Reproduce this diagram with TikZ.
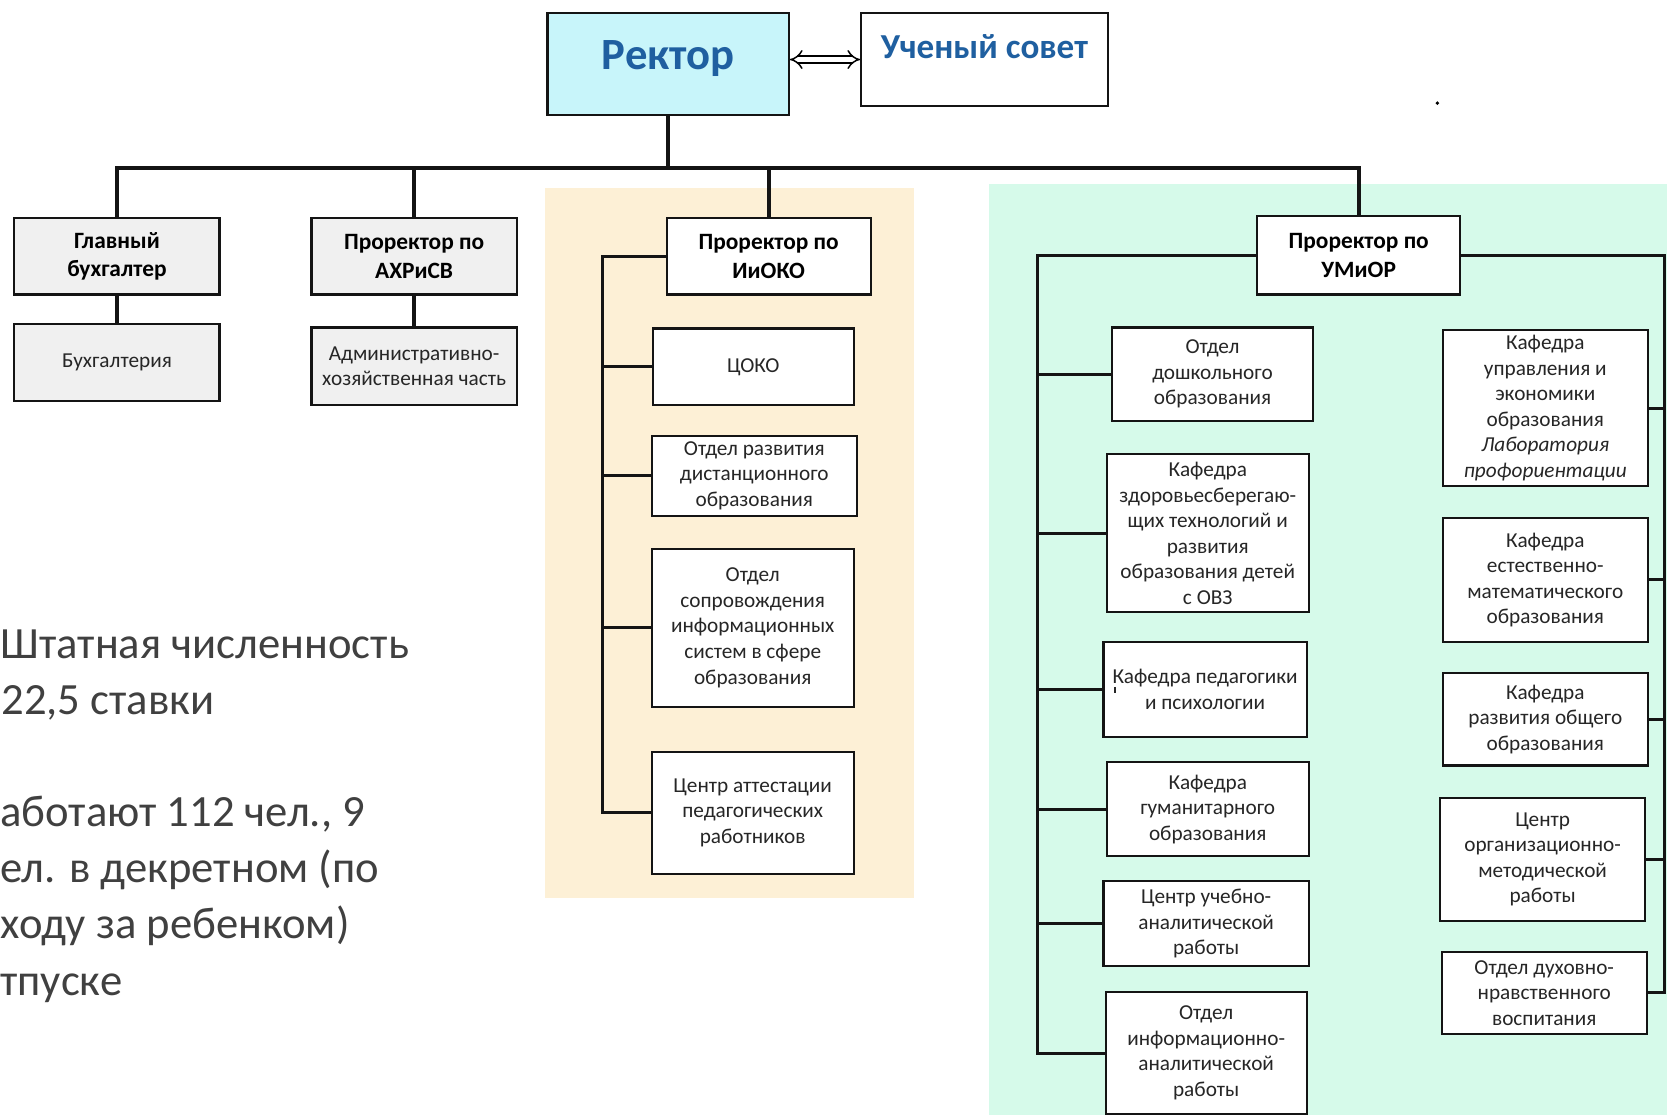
\documentclass[tikz,border=0pt]{standalone}
\usepackage{fontspec}
\setmainfont{Carlito}
\usetikzlibrary{arrows.meta,calc}
\definecolor{rectcyan}{RGB}{200,245,250}
\definecolor{orbg}{RGB}{253,240,214}
\definecolor{grbg}{RGB}{214,250,234}
\definecolor{greybox}{RGB}{240,240,240}
\definecolor{titleblue}{RGB}{31,95,160}
\definecolor{sidetext}{RGB}{64,64,64}
\definecolor{boxtext}{RGB}{38,38,38}
\definecolor{linecol}{RGB}{20,20,20}
\tikzset{
  x=0.5pt, y=-0.5pt,
  ubox/.style={draw=linecol, line width=1pt, fill=white, align=center, inner sep=2pt,
    text=boxtext, font=\fontsize{10}{12}\selectfont},
  hbox/.style={ubox, font=\bfseries\fontsize{11}{13.5}\selectfont, text=black},
  gbox/.style={ubox, fill=greybox},
  ghbox/.style={hbox, fill=greybox},
  bus/.style={draw=linecol, line width=1.8pt},
  conn/.style={draw=linecol, line width=1.4pt},
  side/.style={anchor=base west, inner sep=0pt, text=sidetext, font=\fontsize{21}{26}\selectfont},
}
\begin{document}
\begin{tikzpicture}
\useasboundingbox (0,0) rectangle (1568,1048);
% backgrounds
\fill[orbg] (513,177) rectangle (860,845);
\fill[grbg] (930,173) rectangle (1570,1050);

% top
\node[draw=linecol, line width=1pt, fill=rectcyan, minimum width=113.5pt, minimum height=48pt,
  text height=24.5pt, text depth=19.5pt, inner sep=2pt, text=titleblue,
  font=\bfseries\fontsize{21}{25}\selectfont] (rector) at (628.5,60) {Ректор};
\node[draw=linecol, line width=1pt, fill=white, minimum width=116pt, minimum height=44pt,
  text height=19.5pt, text depth=20.5pt, inner sep=2pt, text=titleblue,
  font=\bfseries\fontsize{16.5}{19}\selectfont] (sovet) at (926,56) {Ученый совет};
\draw[line width=0.7pt, double distance=2.4pt, {Implies}-{Implies}] (rector.east |- sovet.west) -- (sovet.west);
\fill[black] (1352,97) circle[radius=0.9pt];

% level 2
\node[ghbox, minimum width=96.5pt, minimum height=36pt] (glav) at (110,241) {Главный\\бухгалтер};
\node[gbox, minimum width=96.5pt, minimum height=36pt] (buh) at (110,341) {Бухгалтерия};
\node[ghbox, minimum width=96.5pt, minimum height=36pt] (ahr) at (389.5,241) {Проректор по\\АХРиСВ};
\node[gbox, minimum width=96.5pt, minimum height=36.5pt] (ahch) at (389.5,344.5) {Административно-\\хозяйственная часть};
\node[hbox, minimum width=96pt, minimum height=36pt] (ioko) at (723,241) {Проректор по\\ИиОКО};
\node[hbox, minimum width=95.5pt, minimum height=37pt] (umor) at (1278,240) {Проректор по\\УМиОР};

% orange column
\node[ubox, minimum width=94.5pt, minimum height=36pt] (coko) at (708.5,345) {ЦОКО};
\node[ubox, minimum width=96.5pt, minimum height=37.5pt] (dist) at (709.5,447.5) {Отдел развития\\дистанционного\\образования};
\node[ubox, minimum width=95pt, minimum height=74.5pt] (sopr) at (708,590.5) {Отдел\\сопровождения\\информационных\\систем в сфере\\образования};
\node[ubox, minimum width=95pt, minimum height=57.5pt] (att) at (708,764.5) {Центр аттестации\\педагогических\\работников};

% green left column
\node[ubox, minimum width=94.5pt, minimum height=44pt] (dosh) at (1140.5,352) {Отдел\\дошкольного\\образования};
\node[ubox, minimum width=95pt, minimum height=74.5pt] (zdor) at (1136,501.5) {Кафедра\\здоровьесберегаю-\\щих технологий и\\развития\\образования детей\\с ОВЗ};
\node[ubox, minimum width=95.5pt, minimum height=44.5pt] (ped) at (1133.5,648.5) {Кафедра педагогики\\и психологии};
\node[ubox, minimum width=95pt, minimum height=44pt] (gum) at (1136,761) {Кафедра\\гуманитарного\\образования};
\node[ubox, minimum width=96.5pt, minimum height=40pt] (ucheb) at (1134.5,869) {Центр учебно-\\аналитической\\работы};
\node[ubox, minimum width=94.5pt, minimum height=57.5pt] (inf) at (1134.5,990.5) {Отдел\\информационно-\\аналитической\\работы};
\draw[line width=0.8pt, boxtext] (1049,646) -- (1049,652);

% green right column
\node[ubox, minimum width=96.5pt, minimum height=73.5pt] (upr) at (1453.5,384) {Кафедра\\управления и\\экономики\\образования\\\textit{Лаборатория}\\\textit{профориентации}};
\node[ubox, minimum width=96.5pt, minimum height=58pt] (est) at (1453.5,545.5) {Кафедра\\естественно-\\математического\\образования};
\node[ubox, minimum width=96.5pt, minimum height=43.5pt] (razv) at (1453.5,676.5) {Кафедра\\развития общего\\образования};
\node[ubox, minimum width=96.5pt, minimum height=57.5pt] (centr) at (1451,808.5) {Центр\\организационно-\\методической\\работы};
\node[ubox, minimum width=96.5pt, minimum height=38.5pt] (duh) at (1452.5,934) {Отдел духовно-\\нравственного\\воспитания};

% bus
\coordinate (busL) at (110,158);
\coordinate (ol) at (567,0);
\coordinate (gl) at (976,0);
\coordinate (gr) at (1566,0);
\draw[bus] (glav.north) -- (glav.north |- busL) -- (umor.north |- busL) -- (umor.north);
\draw[bus] (rector.south) -- (rector.south |- busL);
\draw[bus] (ahr.north) -- (ahr.north |- busL);
\draw[bus] (ioko.north) -- (ioko.north |- busL);
\draw[bus] (glav.south) -- (buh.north);
\draw[bus] (ahr.south) -- (ahch.north);

% orange connectors
\draw[conn] (ioko.west) -- (ioko.west -| ol) -- (att.west -| ol) -- (att.west);
\foreach \n in {coko,dist,sopr} \draw[conn] (\n.west -| ol) -- (\n.west);

% green connectors
\draw[conn] (umor.west) -- (umor.west -| gl) -- (inf.west -| gl) -- (inf.west);
\foreach \n in {dosh,zdor,ped,gum,ucheb} \draw[conn] (\n.west -| gl) -- (\n.west);
\draw[conn] (umor.east) -- (umor.east -| gr) -- (duh.east -| gr) -- (duh.east);
\foreach \n in {upr,est,razv,centr} \draw[conn] (\n.east -| gr) -- (\n.east);

% side text
\node[side] (t1) at (0,619) {Штатная численность};
\node[side] (t2) at (1,672) {22,5 ставки};
\node[side] (t3) at (0,777) {аботают 112 чел., 9};
\node[side] (t4) at (0,830) {ел. в декретном (по};
\node[side] (t5) at (0,883) {ходу за ребенком)};
\node[side] (t6) at (0,936) {тпуске};
\end{tikzpicture}
\end{document}
